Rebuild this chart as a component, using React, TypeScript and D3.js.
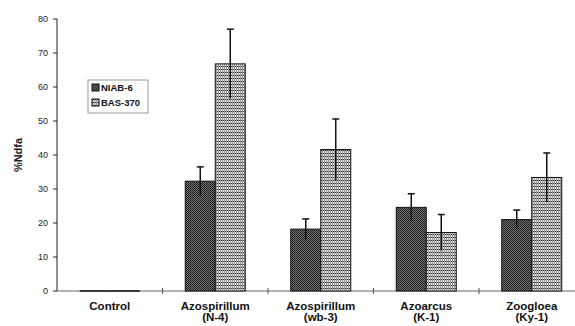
import React from 'react';
import * as d3 from 'd3';

const categories = [['Control'], ['Azospirillum', '(N-4)'], ['Azospirillum', '(wb-3)'], ['Azoarcus', '(K-1)'], ['Zoogloea', '(Ky-1)']];
const seriesNames = ['NIAB-6', 'BAS-370'];
const niab6 = [0, 32.3, 18.2, 24.6, 21.0];
const niab6Err = [0, 4.2, 3.0, 4.0, 2.8];
const bas370 = [0, 66.8, 41.6, 17.2, 33.4];
const bas370Err = [0, 10.2, 9.0, 5.3, 7.2];
const yTicks = [0, 10, 20, 30, 40, 50, 60, 70, 80];

const W = 575;
const H = 326;
const left = 57;
const bandW = 105.5;

const App = () => {
  const x = d3.scaleBand<number>()
    .domain(d3.range(categories.length))
    .range([left, left + bandW * categories.length]);
  const y = d3.scaleLinear().domain([0, 80]).range([291, 19]);
  const barW = 30;
  const series = [
    { vals: niab6, err: niab6Err, fill: 'url(#checker)', off: -barW },
    { vals: bas370, err: bas370Err, fill: 'url(#grid)', off: 0 },
  ];
  const font = '"Liberation Sans", Arial, sans-serif';

  return (
    <svg width={W} height={H} style={{ position: 'absolute', left: 0, top: 0, background: '#fff' }} fontFamily={font}>
      <defs>
        <pattern id="checker" width="2" height="2" patternUnits="userSpaceOnUse">
          <rect width="2" height="2" fill="#777" />
          <rect width="1" height="1" fill="#111" />
          <rect x="1" y="1" width="1" height="1" fill="#222" />
        </pattern>
        <pattern id="grid" width="2" height="3" patternUnits="userSpaceOnUse">
          <rect width="2" height="3" fill="#e4e4e4" />
          <rect width="2" height="1" fill="#333" />
          <rect width="1" height="3" fill="#999" />
        </pattern>
      </defs>

      {/* y axis */}
      <line x1={left} x2={left} y1={y(80)} y2={y(0)} stroke="#222" strokeWidth={1} />
      {yTicks.map(t => (
        <g key={t}>
          <line x1={left - 4} x2={left} y1={y(t)} y2={y(t)} stroke="#222" />
          <text x={left - 9} y={y(t) + 3} fontSize={9} textAnchor="end" fill="#222">{t}</text>
        </g>
      ))}
      <text transform={`translate(22,${(y(80) + y(0)) / 2}) rotate(-90)`} textAnchor="middle" fontSize={11} fontWeight="bold" fill="#222">%Ndfa</text>

      {/* x axis */}
      <line x1={left} x2={W} y1={y(0)} y2={y(0)} stroke="#666" strokeWidth={1} />
      {d3.range(1, categories.length + 1).map(i => (
        <line key={i} x1={left + bandW * i} x2={left + bandW * i} y1={y(0) - 3} y2={y(0) + 3} stroke="#555" />
      ))}

      {/* bars */}
      {series.map((s, si) => s.vals.map((v, i) => {
        const cx = (x(i) as number) + x.bandwidth() / 2;
        if (v === 0) {
          return <line key={`${si}-${i}`} x1={cx + s.off} x2={cx + s.off + barW} y1={y(0)} y2={y(0)} stroke="#111" strokeWidth={1.5} />;
        }
        return (
          <rect key={`${si}-${i}`} x={cx + s.off} y={y(v)} width={barW} height={y(0) - y(v)}
            fill={s.fill} stroke="#111" strokeWidth={1} />
        );
      }))}

      {/* error bars */}
      {series.map((s, si) => s.vals.map((v, i) => {
        if (s.err[i] === 0) return null;
        const cx = (x(i) as number) + x.bandwidth() / 2 + s.off + barW / 2;
        return (
          <g key={`e${si}-${i}`} stroke="#111">
            <line x1={cx} x2={cx} y1={y(v - s.err[i])} y2={y(v + s.err[i])} strokeWidth={1.5} />
            <line x1={cx - 3.5} x2={cx + 3.5} y1={y(v + s.err[i])} y2={y(v + s.err[i])} strokeWidth={1.5} />
          </g>
        );
      }))}

      {categories.map((c, i) => (
        <text key={i} x={(x(i) as number) + x.bandwidth() / 2} y={310} textAnchor="middle" fontSize={11.5} fontWeight="bold" fill="#111">
          {c.map((l, li) => (
            <tspan key={li} x={(x(i) as number) + x.bandwidth() / 2} dy={li === 0 ? 0 : 11}>{l}</tspan>
          ))}
        </text>
      ))}

      {/* legend */}
      <rect x={88} y={80} width={60} height={33} fill="#fff" stroke="#999" />
      {seriesNames.map((n, i) => (
        <g key={n}>
          <rect x={92} y={84 + i * 15} width={7} height={7} fill={i === 0 ? 'url(#checker)' : 'url(#grid)'} stroke="#111" />
          <text x={101} y={91 + i * 15} fontSize={9.5} fontWeight="bold" fill="#111">{n}</text>
        </g>
      ))}
    </svg>
  );
};

export default App;
